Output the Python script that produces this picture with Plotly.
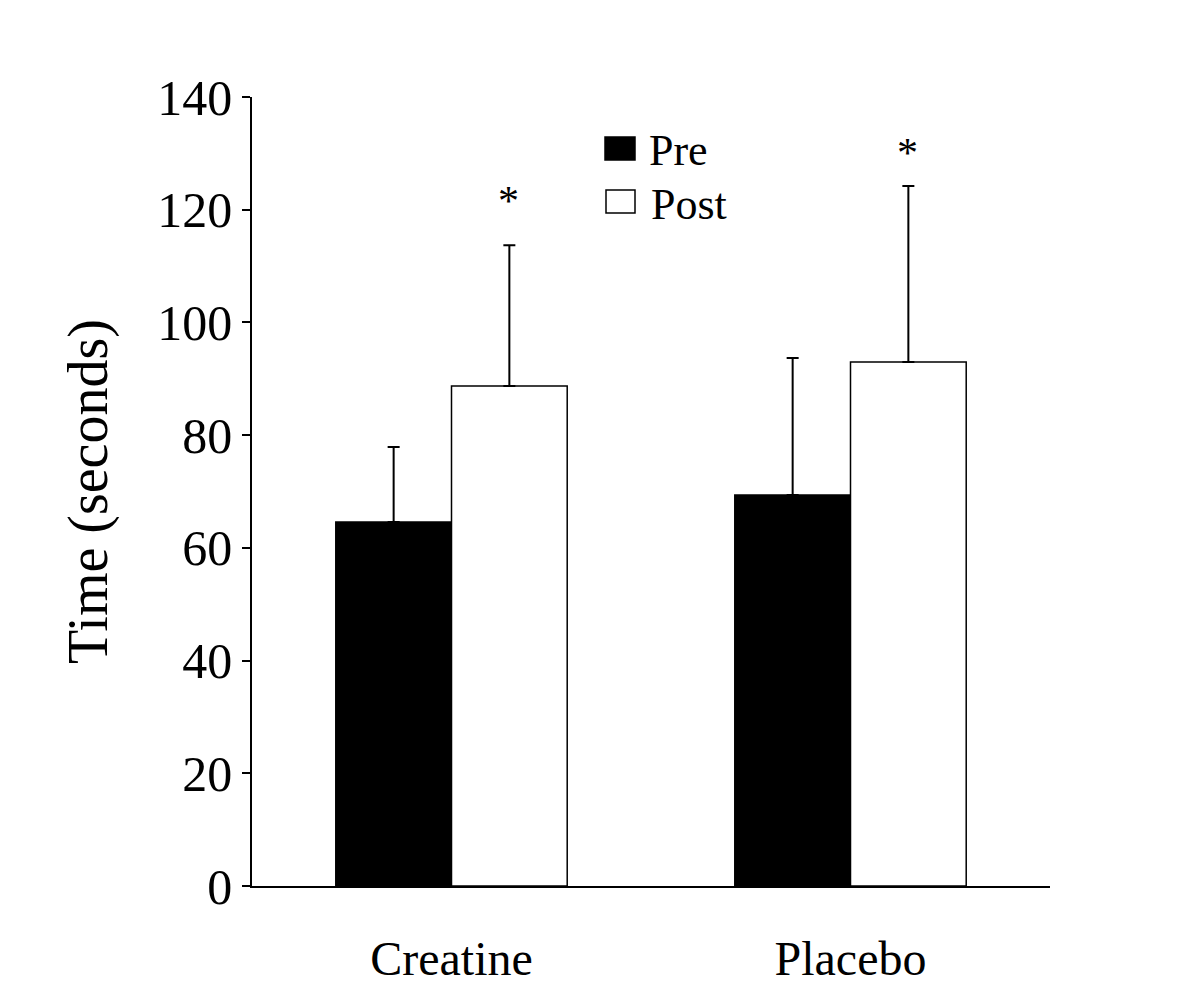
import plotly.graph_objects as go

groups = ["Creatine", "Placebo"]
pre_mean = [64.6, 69.4]
pre_err = [13.3, 24.3]
post_mean = [88.7, 93.0]
post_err = [25.0, 31.2]
star_y = [121.5, 130.0]

FONT = "Liberation Serif, Times New Roman, serif"

fig = go.Figure()
fig.add_trace(go.Bar(
    x=groups, y=pre_mean, name="Pre",
    marker=dict(color="black", line=dict(color="black", width=1.5)),
    error_y=dict(type="data", symmetric=False, array=pre_err, arrayminus=[0, 0],
                 color="black", thickness=2, width=6),
))
fig.add_trace(go.Bar(
    x=groups, y=post_mean, name="Post",
    marker=dict(color="white", line=dict(color="black", width=1.5)),
    error_y=dict(type="data", symmetric=False, array=post_err, arrayminus=[0, 0],
                 color="black", thickness=2, width=6),
))

# asterisks over the post bars
for g, sy in zip(groups, star_y):
    fig.add_annotation(x=g, y=sy, xshift=57, text="*", showarrow=False,
                       font=dict(family=FONT, size=42, color="black"))

# hand-drawn legend (positions in page pixels -> paper coords)
L, T, W, H = 244, 89, 798, 789


def px(v):
    return (v - 8 - L) / W


def py(v):
    return (T + H + 8 - v) / H


fig.add_shape(type="rect", xref="paper", yref="paper",
              x0=px(605), x1=px(635), y0=py(160), y1=py(137),
              fillcolor="black", line=dict(color="black", width=1.5))
fig.add_shape(type="rect", xref="paper", yref="paper",
              x0=px(606), x1=px(635), y0=py(213), y1=py(190),
              fillcolor="white", line=dict(color="black", width=1.5))
fig.add_annotation(xref="paper", yref="paper", x=px(647), y=py(150), text="Pre",
                   xanchor="left", yanchor="middle", showarrow=False,
                   font=dict(family=FONT, size=44, color="black"))
fig.add_annotation(xref="paper", yref="paper", x=px(649), y=py(205), text="Post",
                   xanchor="left", yanchor="middle", showarrow=False,
                   font=dict(family=FONT, size=44, color="black"))

fig.update_layout(
    width=1200, height=1004,
    margin=dict(l=L, r=1200 - L - W, t=T, b=1004 - T - H),
    plot_bgcolor="white", paper_bgcolor="white",
    barmode="group", bargap=0.42, bargroupgap=0,
    showlegend=False,
    font=dict(family=FONT, color="black", size=48),
)
fig.update_xaxes(showline=True, linecolor="black", linewidth=1.5, ticks="",
                 ticklabelstandoff=30, tickfont=dict(size=48))
fig.update_yaxes(range=[0, 140], dtick=20, showgrid=False, zeroline=False,
                 showline=True, linecolor="black", linewidth=1.5,
                 ticks="outside", ticklen=8, tickwidth=1.5, tickcolor="black",
                 tickfont=dict(size=50),
                 title=dict(text="Time (seconds)", font=dict(size=56), standoff=32))

fig.write_html("out.html")
